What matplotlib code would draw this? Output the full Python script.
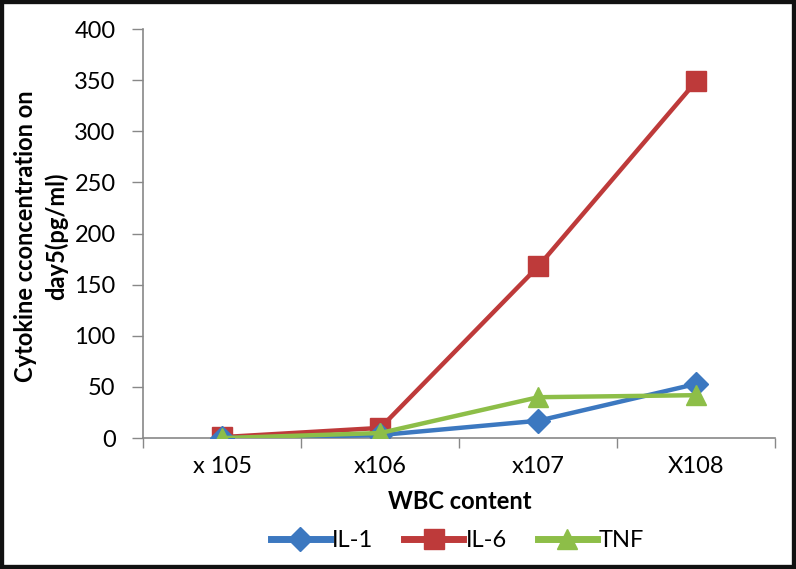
import matplotlib
matplotlib.use("Agg")
import matplotlib.pyplot as plt
from matplotlib.patches import Rectangle

categories = ["x 105", "x106", "x107", "X108"]
il1 = [0, 3, 17, 53]
il6 = [1, 10, 168, 349]
tnf = [0, 5, 40, 42]

plt.rcParams['font.family'] = ['Lato', 'DejaVu Sans']

fig = plt.figure(figsize=(7.96, 5.69), dpi=100)
ax = fig.add_axes([0.18, 0.230, 0.794, 0.719])

x = list(range(len(categories)))
ax.plot(x, il1, color="#3C78C0", lw=3.2, marker="D", ms=12, label="IL-1", zorder=3)
ax.plot(x, il6, color="#BE3A3A", lw=3.2, marker="s", ms=15, label="IL-6", zorder=2)
ax.plot(x, tnf, color="#8DBE48", lw=3.2, marker="^", ms=14, label="TNF", zorder=4)

ax.set_xlim(-0.5, 3.5)
ax.set_ylim(0, 400)
ax.set_yticks(range(0, 401, 50))
ax.set_xticks(x)
ax.set_xticklabels(categories)
ax.set_xticks([-0.5, 0.5, 1.5, 2.5, 3.5], minor=True)
ax.tick_params(axis='x', which='major', length=0, pad=13, labelsize=17)
ax.tick_params(axis='x', which='minor', length=7, color="#888888", width=1)
ax.tick_params(axis='y', length=8, color="#888888", width=1, labelsize=17, pad=12)
for s in ["top", "right"]:
    ax.spines[s].set_visible(False)
for s in ["left", "bottom"]:
    ax.spines[s].set_color("#888888")
    ax.spines[s].set_linewidth(1.2)

ax.set_xlabel("WBC content", fontsize=17, fontweight="bold", labelpad=9)
ax.set_ylabel("Cytokine cconcentration on\nday5(pg/ml)", fontsize=17, fontweight="bold",
              linespacing=1.4, va="center", ha="center", multialignment="center")
ax.yaxis.set_label_coords(-0.162, 0.494)

leg = fig.legend(loc="center", bbox_to_anchor=(0.575, 0.05), ncol=3, frameon=False,
                 fontsize=17, handlelength=2.5, columnspacing=1.3, handletextpad=0.1)
for h in leg.legend_handles:
    h.set_linewidth(5)

fig.patches.append(Rectangle((0, 0), 1, 1, transform=fig.transFigure, fill=False,
                             edgecolor="#111111", linewidth=6))

fig.savefig("out.png", dpi=100)
